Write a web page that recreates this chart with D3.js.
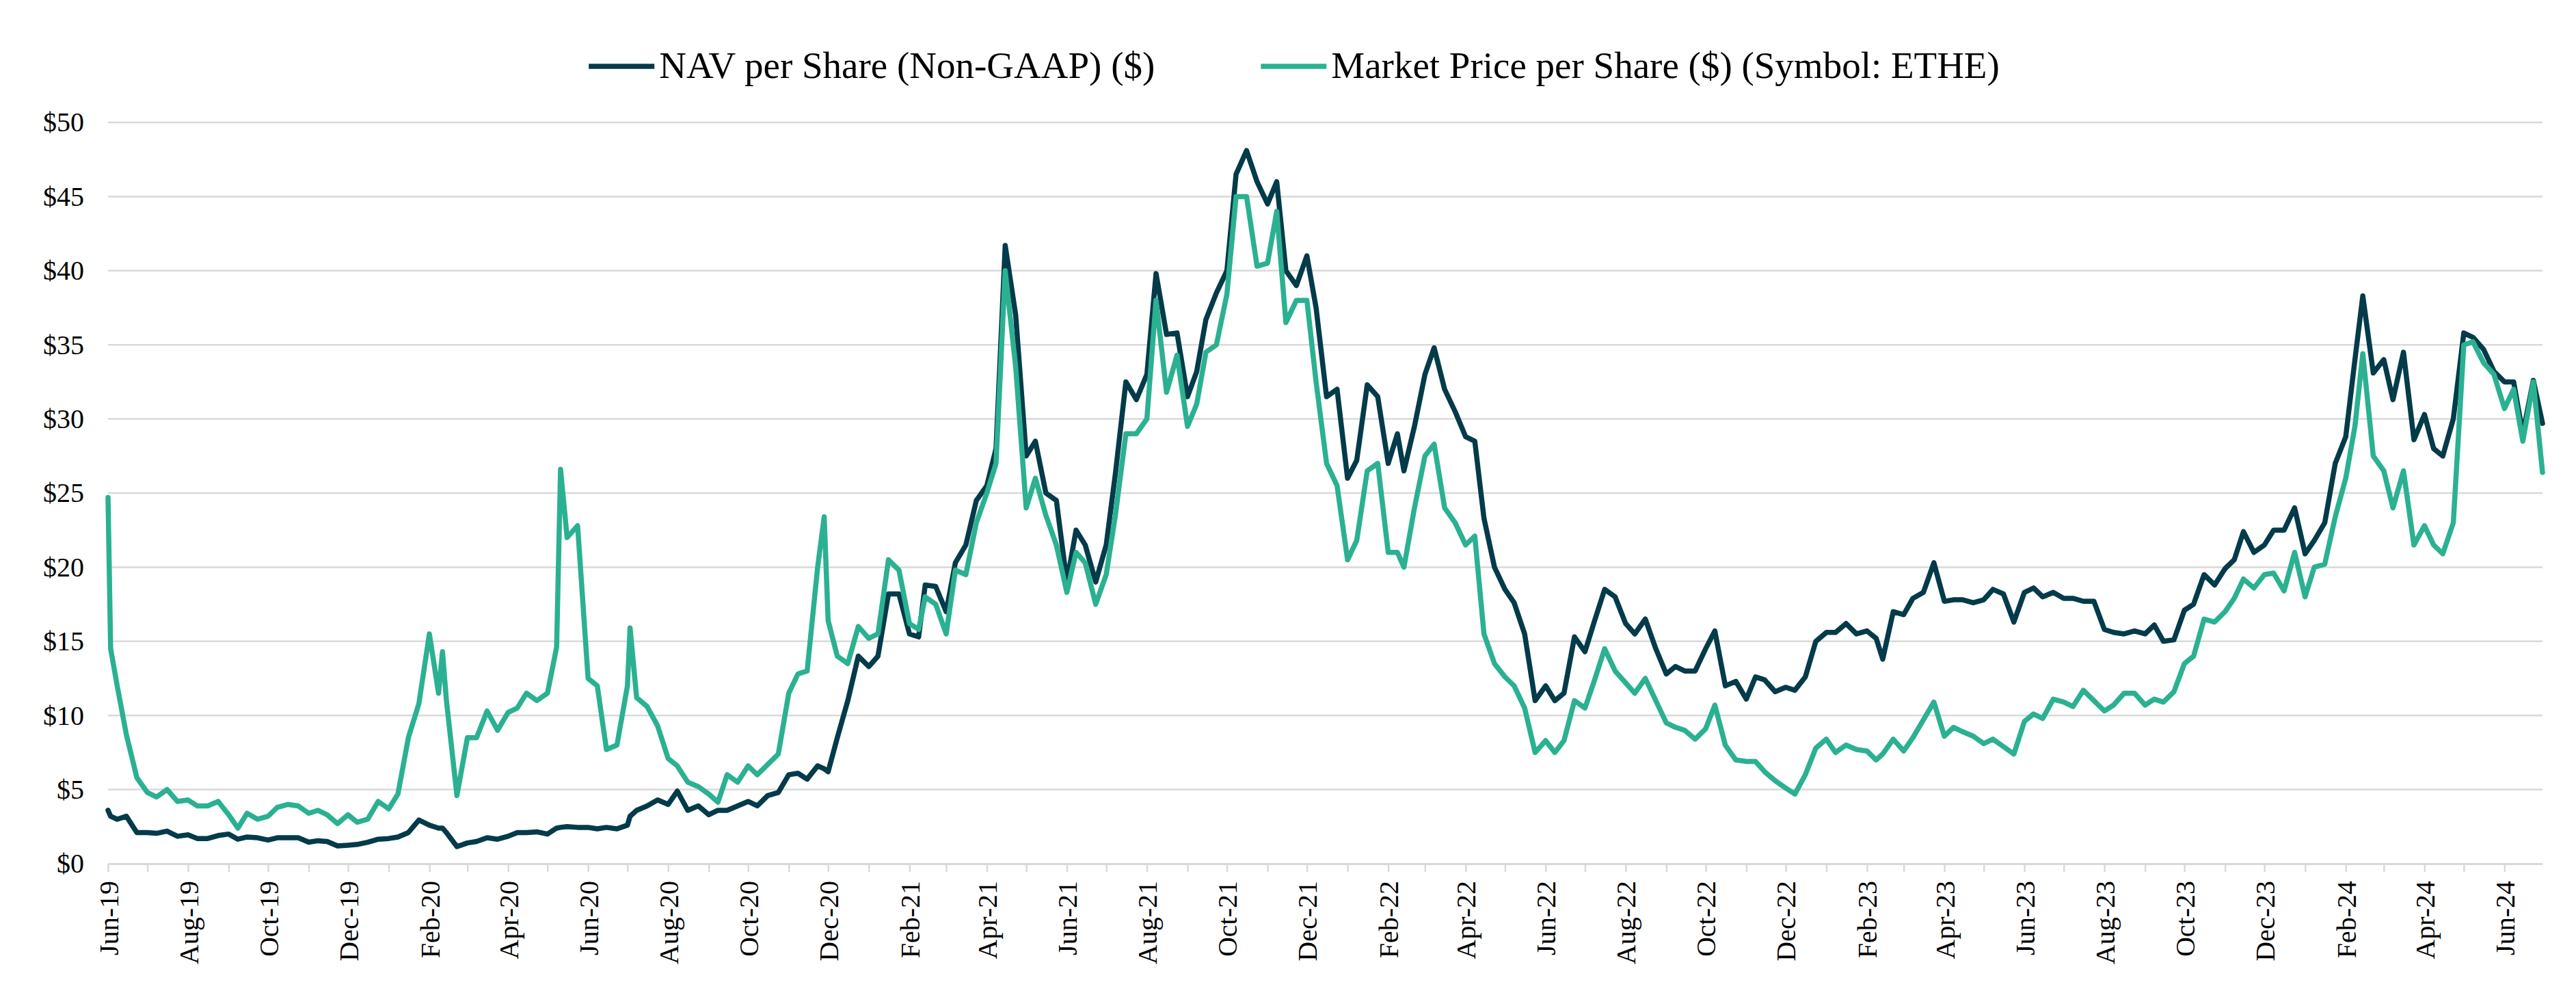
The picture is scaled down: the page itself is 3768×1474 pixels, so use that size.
<!DOCTYPE html>
<html>
<head>
<meta charset="utf-8">
<script src="https://cdn.jsdelivr.net/npm/d3@7"></script>
<style>
    html, body { margin: 0; padding: 0; background: #ffffff; }
    svg text { font-family: "Liberation Serif", "Times New Roman", serif; fill: #000000; }
</style>
</head>
<body>
<div id="chart"></div>
<script>
const dates = [
    "2019-06-18","2019-06-20","2019-06-25","2019-07-02","2019-07-10",
    "2019-07-18","2019-07-25","2019-08-02","2019-08-10",
    "2019-08-18","2019-08-25","2019-09-02","2019-09-10",
    "2019-09-18","2019-09-25","2019-10-02","2019-10-10",
    "2019-10-18","2019-10-25","2019-11-02","2019-11-10",
    "2019-11-18","2019-11-25","2019-12-02","2019-12-10",
    "2019-12-18","2019-12-25","2020-01-02","2020-01-10",
    "2020-01-18","2020-01-25","2020-02-02","2020-02-10",
    "2020-02-18","2020-02-25","2020-02-28","2020-03-02","2020-03-10",
    "2020-03-18","2020-03-25","2020-04-02","2020-04-10",
    "2020-04-18","2020-04-25","2020-05-02","2020-05-10",
    "2020-05-18","2020-05-25","2020-05-28","2020-06-02","2020-06-10",
    "2020-06-18","2020-06-25","2020-07-02","2020-07-10",
    "2020-07-18","2020-07-20","2020-07-25","2020-08-02","2020-08-10",
    "2020-08-18","2020-08-25","2020-09-02","2020-09-10",
    "2020-09-18","2020-09-25","2020-10-02","2020-10-10",
    "2020-10-18","2020-10-25","2020-11-02","2020-11-10",
    "2020-11-18","2020-11-25","2020-12-02","2020-12-10",
    "2020-12-15","2020-12-18","2020-12-25","2021-01-02","2021-01-10",
    "2021-01-18","2021-01-25","2021-02-02","2021-02-10",
    "2021-02-18","2021-02-25","2021-03-02","2021-03-10",
    "2021-03-18","2021-03-25","2021-04-02","2021-04-10",
    "2021-04-18","2021-04-25","2021-05-02","2021-05-10",
    "2021-05-18","2021-05-25","2021-06-02","2021-06-10",
    "2021-06-18","2021-06-25","2021-07-02","2021-07-10",
    "2021-07-18","2021-07-25","2021-08-02","2021-08-10",
    "2021-08-18","2021-08-25","2021-09-02","2021-09-10",
    "2021-09-18","2021-09-25","2021-10-02","2021-10-10",
    "2021-10-18","2021-10-25","2021-11-02","2021-11-10",
    "2021-11-18","2021-11-25","2021-12-02","2021-12-10",
    "2021-12-18","2021-12-25","2022-01-02","2022-01-10",
    "2022-01-18","2022-01-25","2022-02-02","2022-02-10",
    "2022-02-18","2022-02-25","2022-03-02","2022-03-10",
    "2022-03-18","2022-03-25","2022-04-02","2022-04-10",
    "2022-04-18","2022-04-25","2022-05-02","2022-05-10",
    "2022-05-18","2022-05-25","2022-06-02","2022-06-10",
    "2022-06-18","2022-06-25","2022-07-02","2022-07-10",
    "2022-07-18","2022-07-25","2022-08-02","2022-08-10",
    "2022-08-18","2022-08-25","2022-09-02","2022-09-10",
    "2022-09-18","2022-09-25","2022-10-02","2022-10-10",
    "2022-10-18","2022-10-25","2022-11-02","2022-11-10",
    "2022-11-18","2022-11-25","2022-12-02","2022-12-10",
    "2022-12-18","2022-12-25","2023-01-02","2023-01-10",
    "2023-01-18","2023-01-25","2023-02-02","2023-02-10",
    "2023-02-18","2023-02-25","2023-03-02","2023-03-10",
    "2023-03-18","2023-03-25","2023-04-02","2023-04-10",
    "2023-04-18","2023-04-25","2023-05-02","2023-05-10",
    "2023-05-18","2023-05-25","2023-06-02","2023-06-10",
    "2023-06-18","2023-06-25","2023-07-02","2023-07-10",
    "2023-07-18","2023-07-25","2023-08-02","2023-08-10",
    "2023-08-18","2023-08-25","2023-09-02","2023-09-10",
    "2023-09-18","2023-09-25","2023-10-02","2023-10-10",
    "2023-10-18","2023-10-25","2023-11-02","2023-11-10",
    "2023-11-18","2023-11-25","2023-12-02","2023-12-10",
    "2023-12-18","2023-12-25","2024-01-02","2024-01-10",
    "2024-01-18","2024-01-25","2024-02-02","2024-02-10",
    "2024-02-18","2024-02-25","2024-03-02","2024-03-10",
    "2024-03-18","2024-03-25","2024-04-02","2024-04-10",
    "2024-04-18","2024-04-25","2024-05-02","2024-05-10",
    "2024-05-18","2024-05-25","2024-06-02","2024-06-10",
    "2024-06-18","2024-06-25","2024-07-02","2024-07-10","2024-07-17"
];

const navPerShare = [
    3.6, 3.2, 3.0, 3.2, 2.1,
    2.1, 2.05, 2.2, 1.85,
    1.95, 1.7, 1.7, 1.9,
    2.0, 1.65, 1.8, 1.75,
    1.6, 1.75, 1.75, 1.75,
    1.45, 1.55, 1.5, 1.2,
    1.25, 1.3, 1.45, 1.65,
    1.7, 1.8, 2.1, 2.95,
    2.6, 2.4, 2.4, 2.1, 1.15,
    1.4, 1.5, 1.75, 1.65,
    1.85, 2.1, 2.1, 2.15,
    2.0, 2.4, 2.45, 2.5, 2.45,
    2.45, 2.35, 2.45, 2.35,
    2.6, 3.2, 3.6, 3.9, 4.3,
    4.0, 4.9, 3.6, 3.9,
    3.3, 3.6, 3.6, 3.9,
    4.2, 3.9, 4.6, 4.8,
    6.0, 6.1, 5.7, 6.6,
    6.4, 6.2, 8.5, 11.0, 14.0,
    13.3, 14.0, 18.2, 18.2,
    15.5, 15.3, 18.8, 18.7,
    17.0, 20.3, 21.5, 24.5,
    25.5, 28.0, 41.7, 37.0,
    27.5, 28.5, 25.0, 24.5,
    19.0, 22.5, 21.5, 19.0,
    21.5, 26.3, 32.5, 31.3,
    33.0, 39.8, 35.7, 35.8,
    31.5, 33.2, 36.7, 38.5,
    40.0, 46.5, 48.1, 46.0,
    44.5, 46.0, 40.0, 39.0,
    41.0, 37.5, 31.5, 32.0,
    26.0, 27.2, 32.3, 31.5,
    27.0, 29.0, 26.5, 29.5,
    33.0, 34.8, 32.0, 30.5,
    28.8, 28.5, 23.3, 20.0,
    18.5, 17.6, 15.5, 11.0,
    12.0, 11.0, 11.5, 15.3,
    14.3, 16.3, 18.5, 18.0,
    16.2, 15.5, 16.5, 14.5,
    12.8, 13.3, 13.0, 13.0,
    14.5, 15.7, 12.0, 12.3,
    11.1, 12.6, 12.4, 11.6,
    11.9, 11.7, 12.6, 15.0,
    15.6, 15.6, 16.2, 15.5,
    15.7, 15.2, 13.8, 17.0,
    16.8, 17.9, 18.3, 20.3,
    17.7, 17.8, 17.8, 17.6,
    17.8, 18.5, 18.2, 16.3,
    18.3, 18.6, 18.0, 18.3,
    17.9, 17.9, 17.7, 17.7,
    15.8, 15.6, 15.5, 15.7,
    15.5, 16.1, 15.0, 15.1,
    17.1, 17.5, 19.5, 18.8,
    19.9, 20.5, 22.4, 21.0,
    21.5, 22.5, 22.5, 24.0,
    20.9, 21.8, 23.0, 27.0,
    28.8, 34.0, 38.3, 33.1,
    34.0, 31.3, 34.5, 28.6,
    30.3, 28.0, 27.5, 30.0,
    35.8, 35.5, 34.7, 33.2,
    32.5, 32.5, 29.0, 32.6, 29.7
];

const marketPrice = [
    24.7, 14.5, 12.0, 8.7, 5.8,
    4.8, 4.5, 5.0, 4.2,
    4.3, 3.9, 3.9, 4.2,
    3.3, 2.4, 3.4, 3.0,
    3.2, 3.8, 4.0, 3.9,
    3.4, 3.6, 3.3, 2.7,
    3.3, 2.8, 3.0, 4.2,
    3.7, 4.7, 8.5, 10.8,
    15.5, 11.5, 14.3, 11.0, 4.6,
    8.5, 8.5, 10.3, 9.0,
    10.2, 10.5, 11.5, 11.0,
    11.5, 14.6, 26.6, 22.0, 22.8,
    12.5, 12.0, 7.7, 8.0,
    12.0, 15.9, 11.2, 10.6, 9.3,
    7.1, 6.6, 5.5, 5.2,
    4.7, 4.15, 6.0, 5.5,
    6.6, 6.0, 6.7, 7.4,
    11.5, 12.8, 13.0, 20.0,
    23.4, 16.4, 14.0, 13.5, 16.0,
    15.2, 15.5, 20.5, 19.8,
    16.2, 15.8, 18.0, 17.5,
    15.5, 19.8, 19.5, 23.0,
    25.0, 27.0, 40.0, 33.5,
    24.0, 26.0, 23.5, 21.5,
    18.3, 21.0, 20.3, 17.5,
    19.5, 23.5, 29.0, 29.0,
    30.0, 38.0, 31.8, 34.3,
    29.5, 31.0, 34.5, 35.0,
    38.4, 45.0, 45.0, 40.3,
    40.5, 44.0, 36.5, 38.0,
    38.0, 32.5, 27.0, 25.5,
    20.5, 21.8, 26.5, 27.0,
    21.0, 21.0, 20.0, 24.0,
    27.5, 28.3, 24.0, 23.0,
    21.5, 22.1, 15.5, 13.5,
    12.6, 12.0, 10.5, 7.5,
    8.3, 7.5, 8.3, 11.0,
    10.5, 12.3, 14.5, 13.0,
    12.2, 11.5, 12.5, 11.0,
    9.5, 9.2, 9.0, 8.4,
    9.1, 10.7, 8.0, 7.0,
    6.9, 6.9, 6.2, 5.6,
    5.1, 4.7, 6.0, 7.8,
    8.4, 7.5, 8.0, 7.7,
    7.6, 7.0, 7.4, 8.4,
    7.6, 8.5, 9.7, 10.9,
    8.6, 9.2, 8.9, 8.6,
    8.1, 8.4, 7.9, 7.4,
    9.6, 10.1, 9.8, 11.1,
    10.9, 10.6, 11.7, 11.0,
    10.3, 10.7, 11.5, 11.5,
    10.7, 11.1, 10.9, 11.6,
    13.5, 14.0, 16.5, 16.3,
    17.0, 17.9, 19.2, 18.6,
    19.5, 19.6, 18.4, 21.0,
    18.0, 20.0, 20.2, 23.4,
    26.0, 29.5, 34.4, 27.5,
    26.5, 24.0, 26.5, 21.5,
    22.8, 21.5, 20.9, 23.0,
    35.0, 35.2, 33.8, 33.0,
    30.7, 32.0, 28.5, 32.5, 26.4
];

const seriesNames = ["NAV per Share (Non-GAAP) ($)", "Market Price per Share ($) (Symbol: ETHE)"];
const seriesColors = ["#033b4a", "#2bb192"];

const yTicks = [0, 5, 10, 15, 20, 25, 30, 35, 40, 45, 50];
const xTickLabels = [
    "Jun-19", "Aug-19", "Oct-19", "Dec-19", "Feb-20", "Apr-20", "Jun-20", "Aug-20",
    "Oct-20", "Dec-20", "Feb-21", "Apr-21", "Jun-21", "Aug-21", "Oct-21", "Dec-21",
    "Feb-22", "Apr-22", "Jun-22", "Aug-22", "Oct-22", "Dec-22", "Feb-23", "Apr-23",
    "Jun-23", "Aug-23", "Oct-23", "Dec-23", "Feb-24", "Apr-24", "Jun-24"
];

class PriceChart {
    constructor(config) {
        this.config = {
            parent: config.parent,
            width: config.width || 3768,
            height: config.height || 1474,
            margin: config.margin || { top: 179, right: 49, bottom: 211, left: 158 }
        };
        this.init();
    }

    init() {
        let self = this;
        const m = self.config.margin;

        self.svg = d3.select(self.config.parent).append('svg')
            .attr('width', self.config.width)
            .attr('height', self.config.height);

        self.inner_width = self.config.width - m.left - m.right;
        self.inner_height = self.config.height - m.top - m.bottom;

        self.chart = self.svg.append('g')
            .attr('transform', `translate(${m.left}, ${m.top})`);

        const parse = d3.timeParse('%Y-%m-%d');
        self.series = [navPerShare, marketPrice].map((vals, i) => ({
            name: seriesNames[i],
            color: seriesColors[i],
            points: dates.map((d, k) => ({ date: parse(d), value: vals[k] }))
                .filter(p => p.value != null)
        }));

        self.xscale = d3.scaleTime()
            .domain(d3.extent(self.series[0].points, p => p.date))
            .range([0, self.inner_width]);

        self.yscale = d3.scaleLinear()
            .domain([0, 50])
            .range([self.inner_height, 0]);
    }

    render() {
        let self = this;

        // horizontal gridlines
        self.chart.append('g')
            .selectAll('line')
            .data(yTicks.filter(v => v > 0))
            .join('line')
            .attr('x1', 0)
            .attr('x2', self.inner_width)
            .attr('y1', d => self.yscale(d))
            .attr('y2', d => self.yscale(d))
            .attr('stroke', '#d9d9d9')
            .attr('stroke-width', 2.5);

        // y axis labels
        const yaxis = d3.axisLeft(self.yscale)
            .tickValues(yTicks)
            .tickFormat(d => `$${d}`)
            .tickSize(0)
            .tickPadding(35);
        const yg = self.chart.append('g').call(yaxis);
        yg.select('.domain').remove();
        yg.selectAll('text').style('font-size', '40px');

        // x axis: monthly ticks, labels every second month
        const labelParse = d3.timeParse('%b-%y');
        const labelled = xTickLabels.map(s => d3.timeDay.offset(labelParse(s), 17));
        const end = self.xscale.domain()[1];
        const tickDates = [];
        labelled.forEach(d => {
            tickDates.push(d);
            const next = d3.timeMonth.offset(d, 1);
            if (next <= end) tickDates.push(next);
        });
        const labelSet = new Set(labelled.map(d => +d));
        const fmt = d3.timeFormat('%b-%y');

        const xaxis = d3.axisBottom(self.xscale)
            .tickValues(tickDates)
            .tickFormat(d => labelSet.has(+d) ? fmt(d) : '')
            .tickSizeInner(12)
            .tickSizeOuter(0);
        const xg = self.chart.append('g')
            .attr('transform', `translate(0, ${self.inner_height})`)
            .call(xaxis);
        xg.select('.domain').attr('stroke', '#d9d9d9').attr('stroke-width', 3);
        xg.selectAll('.tick line').attr('stroke', '#d9d9d9').attr('stroke-width', 2.5);
        xg.selectAll('text')
            .style('font-size', '40px')
            .style('text-anchor', 'end')
            .attr('transform', 'rotate(-90)')
            .attr('x', -25)
            .attr('y', 0)
            .attr('dy', '0.35em');

        // series lines, market price drawn on top
        const line = d3.line()
            .x(p => self.xscale(p.date))
            .y(p => self.yscale(p.value));

        self.chart.append('g')
            .selectAll('path')
            .data(self.series)
            .join('path')
            .attr('d', s => line(s.points))
            .attr('fill', 'none')
            .attr('stroke', s => s.color)
            .attr('stroke-width', 7.5)
            .attr('stroke-linejoin', 'round')
            .attr('stroke-linecap', 'round');

        // legend, centred above the plot
        const legend = self.svg.append('g');
        let offset = 0;
        self.series.forEach((s, i) => {
            const item = legend.append('g').attr('transform', `translate(${offset}, 0)`);
            item.append('line')
                .attr('x1', 0).attr('x2', 96)
                .attr('y1', 0).attr('y2', 0)
                .attr('stroke', s.color)
                .attr('stroke-width', 7.5);
            const label = item.append('text')
                .attr('x', 103)
                .attr('y', 17)
                .style('font-size', '55px')
                .text(s.name);
            offset += 103 + label.node().getComputedTextLength() + (i < self.series.length - 1 ? 155 : 0);
        });
        legend.attr('transform', `translate(${1893 - offset / 2}, 97)`);
    }
}

const chart = new PriceChart({ parent: '#chart' });
chart.render();
</script>
</body>
</html>
